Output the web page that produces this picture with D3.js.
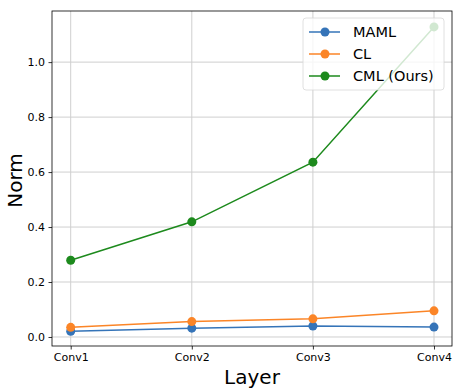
<!DOCTYPE html>
<html>
<head>
<meta charset="utf-8">
<script src="https://cdn.jsdelivr.net/npm/d3@7"></script>
<style>
body { margin: 0; background: #fff; }
text { font-family: "DejaVu Sans", sans-serif; }
</style>
</head>
<body>
<div id="chart"></div>
<script>
// data
var layers = ["Conv1", "Conv2", "Conv3", "Conv4"];
var maml = [0.021, 0.032, 0.040, 0.036];
var cl = [0.035, 0.056, 0.066, 0.095];
var cml = [0.279, 0.419, 0.636, 1.128];
var yTicks = [0.0, 0.2, 0.4, 0.6, 0.8, 1.0];

var series = [
	{ name: "MAML", values: maml, color: "#3574b8" },
	{ name: "CL", values: cl, color: "#fb8527" },
	{ name: "CML (Ours)", values: cml, color: "#1d8a1d" }
];

var w = 462, h = 392;
// plot box (note: "top" clashes with window.top, so use p*)
var pLeft = 52, pRight = 452, pTop = 11, pBottom = 346;

var svg = d3.select("#chart").append("svg")
	.attr("width", w)
	.attr("height", h);

var xScale = d3.scalePoint()
	.domain(layers)
	.range([70.7, 434]);
var yScale = d3.scaleLinear()
	.domain([-0.0328, 1.186])
	.range([pBottom, pTop]);

// grid
svg.append("g").selectAll("line")
	.data(layers)
	.enter().append("line")
	.attr("x1", function(d) { return xScale(d); })
	.attr("x2", function(d) { return xScale(d); })
	.attr("y1", pTop).attr("y2", pBottom)
	.attr("stroke", "#cfcfcf").attr("stroke-width", 1);
svg.append("g").selectAll("line")
	.data(yTicks)
	.enter().append("line")
	.attr("x1", pLeft).attr("x2", pRight)
	.attr("y1", function(d) { return yScale(d); })
	.attr("y2", function(d) { return yScale(d); })
	.attr("stroke", "#cfcfcf").attr("stroke-width", 1);

// lines
var line = d3.line()
	.x(function(d, i) { return xScale(layers[i]); })
	.y(function(d) { return yScale(d); });

series.forEach(function(s) {
	svg.append("path")
		.attr("d", line(s.values))
		.attr("fill", "none")
		.attr("stroke", s.color)
		.attr("stroke-width", 1.5);
	svg.append("g").selectAll("circle")
		.data(s.values)
		.enter().append("circle")
		.attr("cx", function(d, i) { return xScale(layers[i]); })
		.attr("cy", function(d) { return yScale(d); })
		.attr("r", 4.5)
		.attr("fill", s.color);
});

// axes
var xAxis = d3.axisBottom(xScale).tickSize(3.5).tickPadding(3.5);
var yAxis = d3.axisLeft(yScale).tickValues(yTicks).tickFormat(d3.format(".1f")).tickSize(3.5).tickPadding(3.5);

var xg = svg.append("g")
	.attr("transform", "translate(0," + pBottom + ")")
	.call(xAxis);
var yg = svg.append("g")
	.attr("transform", "translate(" + pLeft + ",0)")
	.call(yAxis);
[xg, yg].forEach(function(g) {
	g.select(".domain").remove();
	g.selectAll("text").attr("font-size", 11).attr("fill", "#000")
		.style("font-family", "'DejaVu Sans', sans-serif");
	g.selectAll("line").attr("stroke", "#000").attr("stroke-width", 0.8);
});

// frame
svg.append("rect")
	.attr("x", pLeft).attr("y", pTop)
	.attr("width", pRight - pLeft).attr("height", pBottom - pTop)
	.attr("fill", "none").attr("stroke", "#000").attr("stroke-width", 0.8);

// axis titles
svg.append("text")
	.attr("x", (pLeft + pRight) / 2).attr("y", 384)
	.attr("text-anchor", "middle")
	.attr("font-size", 20)
	.text("Layer");
svg.append("text")
	.attr("transform", "translate(22," + ((pTop + pBottom) / 2 + 2) + ") rotate(-90)")
	.attr("text-anchor", "middle")
	.attr("font-size", 20)
	.text("Norm");

// legend
var lg = svg.append("g").attr("transform", "translate(303,18)");
lg.append("rect")
	.attr("width", 141).attr("height", 72).attr("rx", 3)
	.attr("fill", "#fff").attr("fill-opacity", 0.8)
	.attr("stroke", "#d8d8d8").attr("stroke-width", 0.8);
var items = lg.selectAll(".item")
	.data(series)
	.enter().append("g")
	.attr("transform", function(d, i) { return "translate(0," + (14 + i * 22) + ")"; });
items.append("line")
	.attr("x1", 6).attr("x2", 37)
	.attr("stroke", function(d) { return d.color; })
	.attr("stroke-width", 1.5);
items.append("circle")
	.attr("cx", 22).attr("r", 4.5)
	.attr("fill", function(d) { return d.color; });
items.append("text")
	.attr("x", 50).attr("dy", "0.36em")
	.attr("font-size", 14.5)
	.text(function(d) { return d.name; });
</script>
</body>
</html>
